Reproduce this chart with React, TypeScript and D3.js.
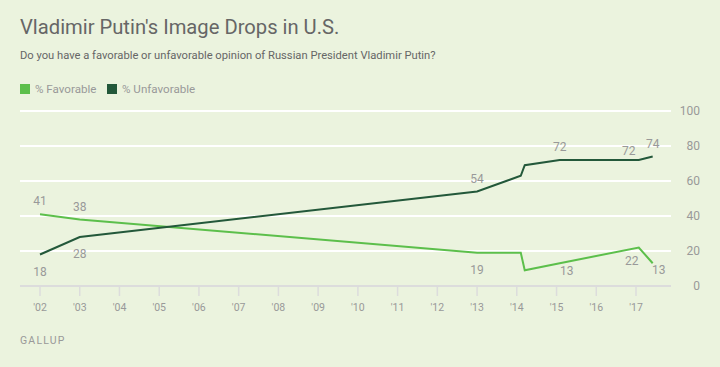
import React from 'react'
import * as d3 from 'd3'

// survey dates as decimal years
const dates = [2002.0, 2003.0, 2013.0, 2014.1, 2014.2, 2015.08, 2017.07, 2017.42]
const favorable = [41, 38, 19, 19, 9, 13, 22, 13]
const unfavorable = [18, 28, 54, 63, 69, 72, 72, 74]

// which points carry a value label (index into dates)
const favLabeled = [0, 1, 2, 5, 6, 7]
const unfLabeled = [0, 1, 2, 5, 6, 7]

const yearTicks = d3.range(2002, 2018)
const yTicks = [0, 20, 40, 60, 80, 100]

const favColor = '#5cbf4b'
const unfColor = '#23583a'
const bg = '#ebf3de'
const font = 'Roboto, "Open Sans", sans-serif'

// label nudges [dx, dy] relative to the point
const favNudge: Record<number, [number, number]> = {
  0: [0, -9], 1: [0, -8.5], 2: [0, 21], 5: [7, 12], 6: [-7, 17.5], 7: [6, 11]
}
const unfNudge: Record<number, [number, number]> = {
  0: [0, 21], 1: [0, 21], 2: [0, -8.5], 5: [0, -9], 6: [-10, -5], 7: [0, -8.5]
}

const App = () => {
  const width = 720
  const height = 367

  const x = d3.scaleLinear().domain([2002, 2017]).range([40, 636])
  const y = d3.scaleLinear().domain([0, 100]).range([286, 111])

  const line = d3.line<number>()
    .x((d, i) => x(dates[i]))
    .y(d => y(d))

  const gridLeft = 20
  const gridRight = 671

  return (
    <svg width={width} height={height} style={{position: 'absolute', left: 0, top: 0, background: bg}}>
      <rect width={width} height={height} fill={bg} />
      <text x={20} y={34} fontFamily={font} fontSize={20.2} fill="#666">Vladimir Putin's Image Drops in U.S.</text>
      <text x={20} y={59} fontFamily={font} fontSize={11.2} fill="#666">Do you have a favorable or unfavorable opinion of Russian President Vladimir Putin?</text>

      <rect x={20} y={84} width={10} height={10} fill={favColor} />
      <text x={35} y={93} fontFamily={font} fontSize={11.6} fill="#999">% Favorable</text>
      <rect x={107} y={84} width={10} height={10} fill={unfColor} />
      <text x={122} y={93} fontFamily={font} fontSize={11.6} fill="#999">% Unfavorable</text>

      {yTicks.filter(t => t > 0).map(t => (
        <line key={t} x1={gridLeft} x2={gridRight} y1={y(t)} y2={y(t)} stroke="#fff" strokeWidth={2} />
      ))}
      {yTicks.map(t => (
        <text key={t} x={700} y={y(t) + 4} textAnchor="end" fontFamily={font} fontSize={12} fill="#999">{t}</text>
      ))}

      <line x1={gridLeft} x2={gridRight} y1={y(0)} y2={y(0)} stroke="#dcdcdc" strokeWidth={2} />
      {yearTicks.map(t => (
        <g key={t}>
          <line x1={x(t)} x2={x(t)} y1={y(0)} y2={y(0) + 10} stroke="#dcdcdc" strokeWidth={1.5} />
          <text x={x(t)} y={311} textAnchor="middle" fontFamily={font} fontSize={10.5} fill="#999">
            {"'" + String(t).slice(2)}
          </text>
        </g>
      ))}

      <path d={line(favorable) || ''} fill="none" stroke={favColor} strokeWidth={2} />
      <path d={line(unfavorable) || ''} fill="none" stroke={unfColor} strokeWidth={2} />

      {favLabeled.map(i => (
        <text key={'f' + i} x={x(dates[i]) + favNudge[i][0]} y={y(favorable[i]) + favNudge[i][1]}
          textAnchor="middle" fontFamily={font} fontSize={12} fill="#999">{favorable[i]}</text>
      ))}
      {unfLabeled.map(i => (
        <text key={'u' + i} x={x(dates[i]) + unfNudge[i][0]} y={y(unfavorable[i]) + unfNudge[i][1]}
          textAnchor="middle" fontFamily={font} fontSize={12} fill="#999">{unfavorable[i]}</text>
      ))}

      <text x={20} y={344} fontFamily={font} fontSize={10.5} letterSpacing={1.2} fill="#999">GALLUP</text>
    </svg>
  )
}

export default App
